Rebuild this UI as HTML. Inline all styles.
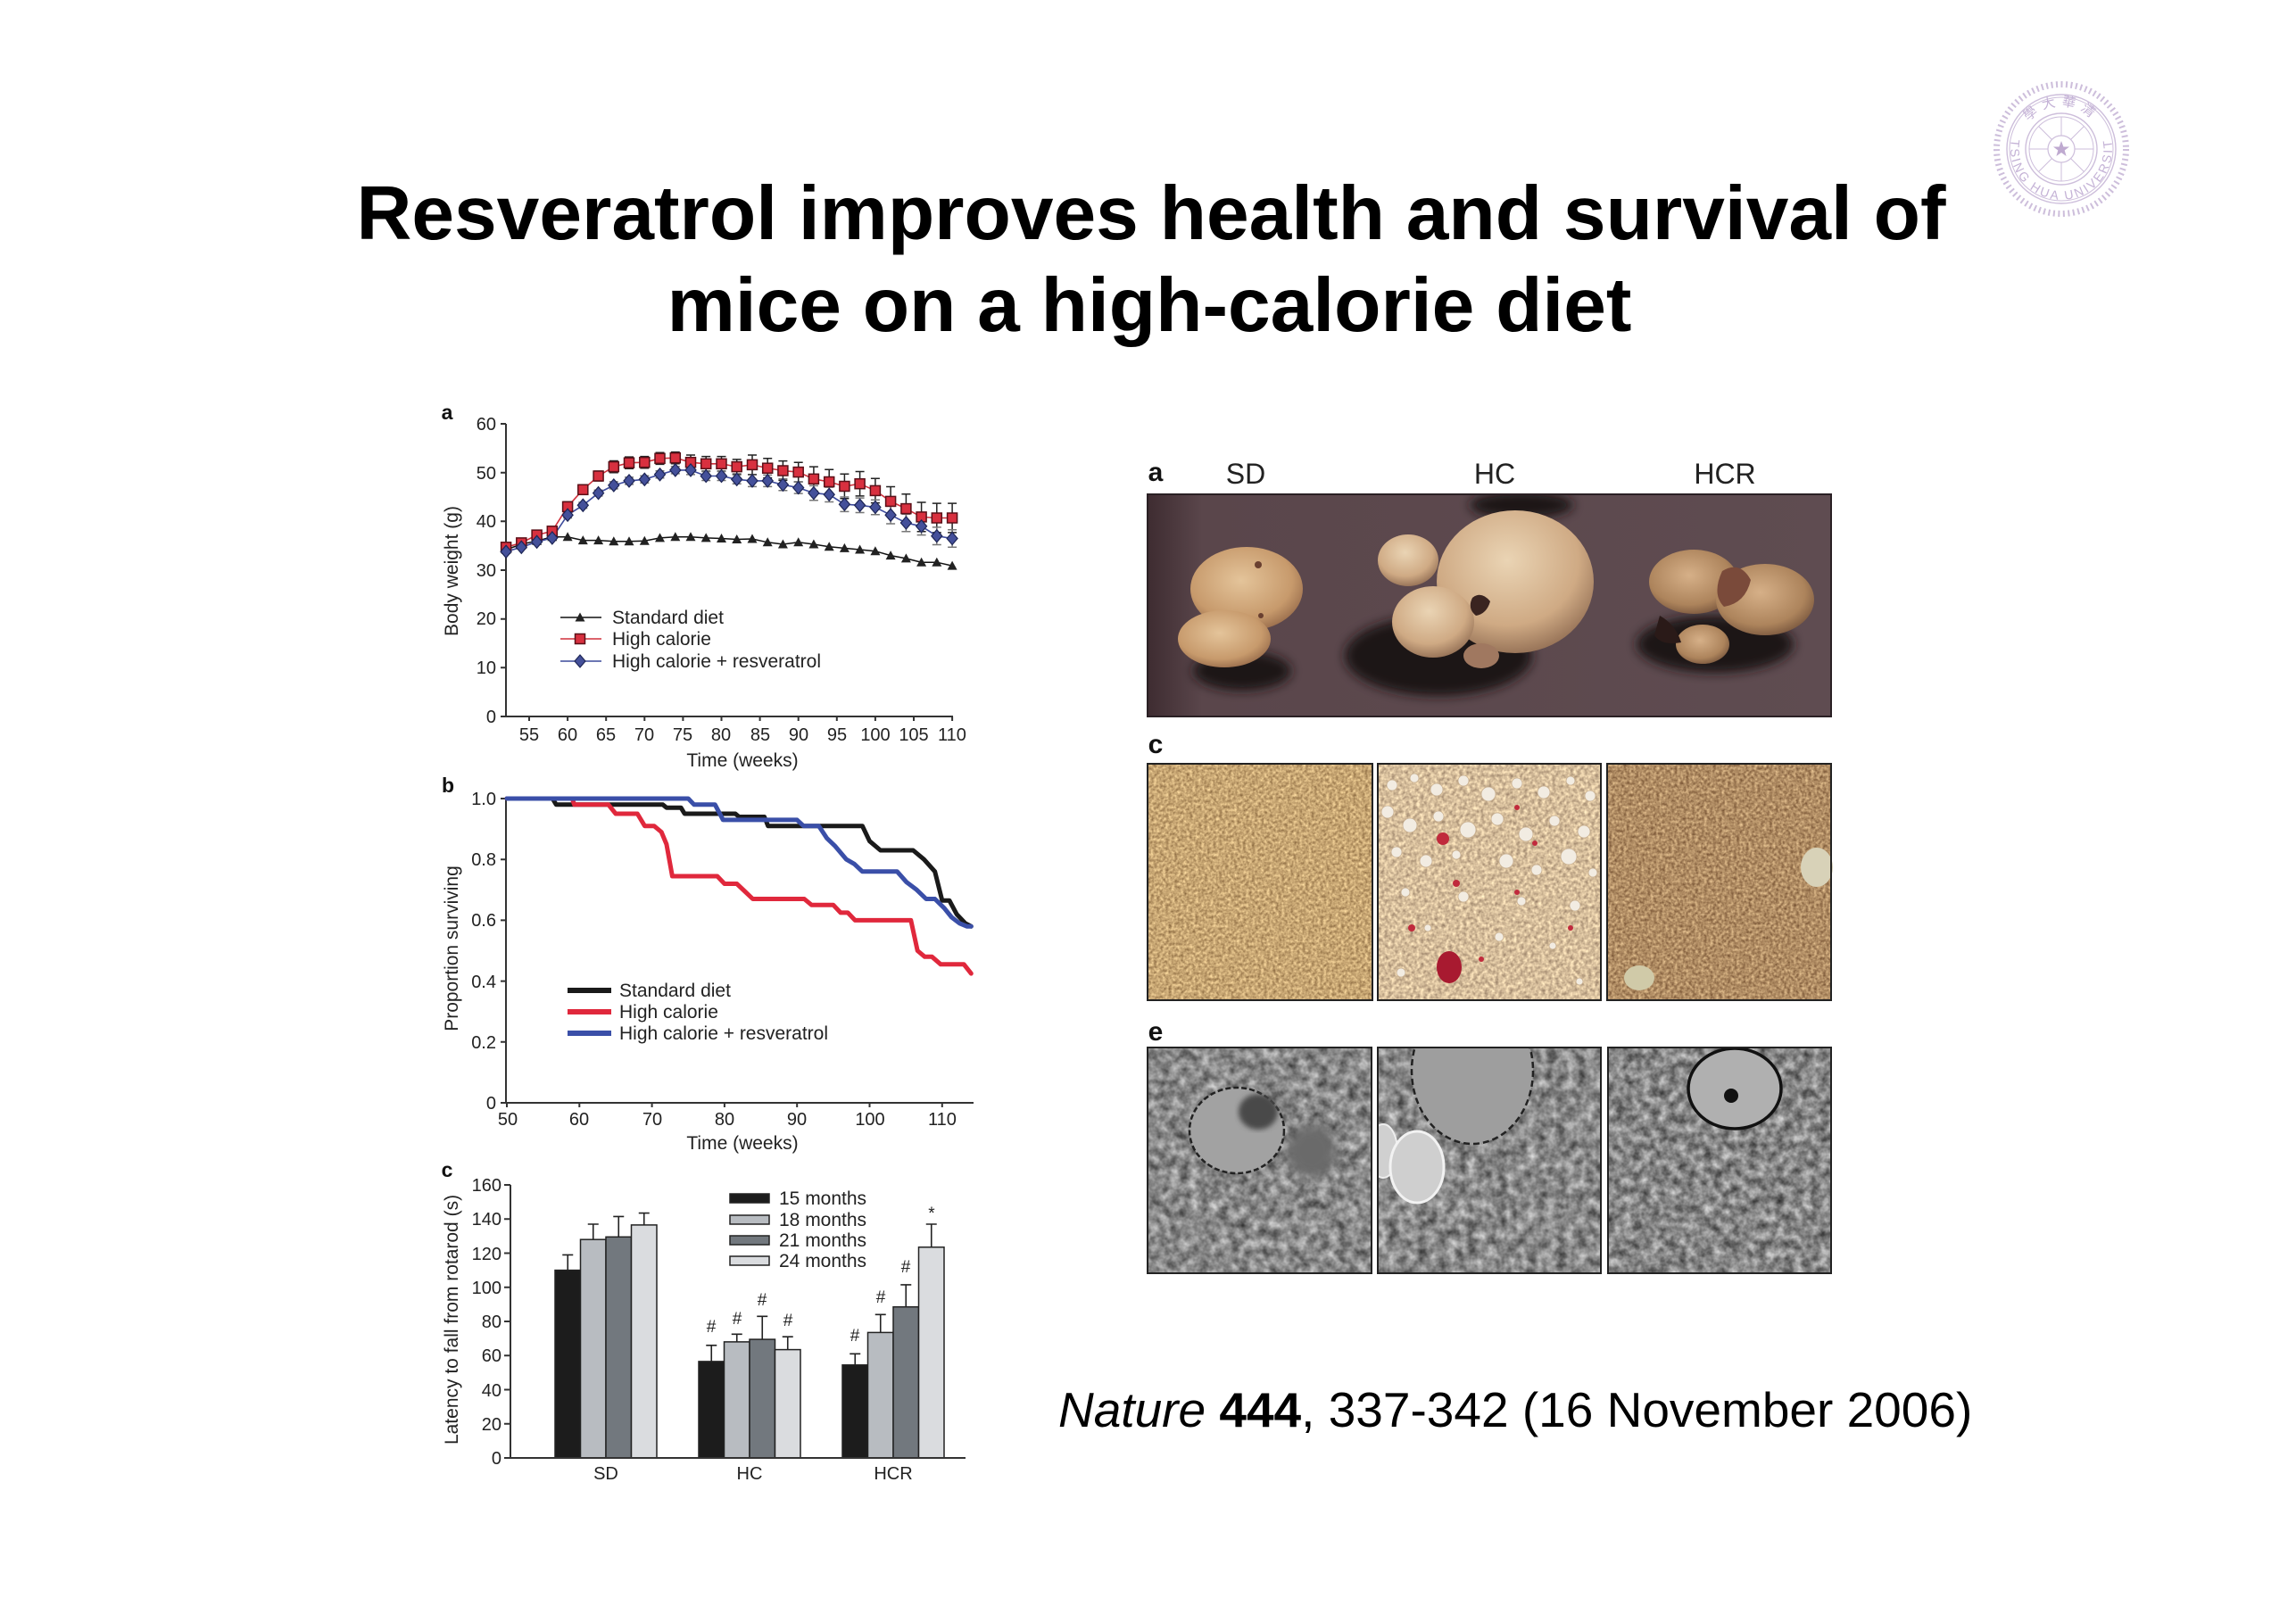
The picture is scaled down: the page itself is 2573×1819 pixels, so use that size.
<!DOCTYPE html>
<html><head><meta charset="utf-8"><style>
html,body{margin:0;padding:0;background:#fff;}
svg{display:block;}
</style></head><body>
<svg xmlns="http://www.w3.org/2000/svg" width="2573" height="1819" viewBox="0 0 2573 1819" font-family="'Liberation Sans', Arial, sans-serif">
<defs>
  <g id="sq"><rect x="-5.5" y="-5.5" width="11" height="11" fill="#d8303f" stroke="#5a1018" stroke-width="1.5"/></g>
  <g id="dm"><polygon points="0,-7 6,0 0,7 -6,0" fill="#44509a" stroke="#1e2656" stroke-width="1.2"/></g>
  <g id="tr"><polygon points="0,-5.5 5.5,4.5 -5.5,4.5" fill="#222"/></g>
  <filter id="fSD" x="0" y="0" width="100%" height="100%" color-interpolation-filters="sRGB"><feTurbulence type="fractalNoise" baseFrequency="0.3" numOctaves="2" seed="4"/><feColorMatrix type="matrix" values="0.6 0 0 0 0.48  0.6 0 0 0 0.35  0.5 0 0 0 0.2  0 0 0 0 1"/></filter>
  <filter id="fHC" x="0" y="0" width="100%" height="100%" color-interpolation-filters="sRGB"><feTurbulence type="fractalNoise" baseFrequency="0.25" numOctaves="2" seed="9"/><feColorMatrix type="matrix" values="0.6 0 0 0 0.54  0.6 0 0 0 0.445  0.5 0 0 0 0.36  0 0 0 0 1"/></filter>
  <filter id="fHCR" x="0" y="0" width="100%" height="100%" color-interpolation-filters="sRGB"><feTurbulence type="fractalNoise" baseFrequency="0.3" numOctaves="2" seed="13"/><feColorMatrix type="matrix" values="0.6 0 0 0 0.39  0.6 0 0 0 0.25  0.5 0 0 0 0.14  0 0 0 0 1"/></filter>
  <filter id="fEM" x="0" y="0" width="100%" height="100%" color-interpolation-filters="sRGB"><feTurbulence type="fractalNoise" baseFrequency="0.09" numOctaves="3" seed="21"/><feColorMatrix type="matrix" values="0.75 0 0 0 0.16  0.75 0 0 0 0.16  0.75 0 0 0 0.16  0 0 0 0 1"/></filter>
  <filter id="fEM2" x="0" y="0" width="100%" height="100%" color-interpolation-filters="sRGB"><feTurbulence type="fractalNoise" baseFrequency="0.09" numOctaves="3" seed="33"/><feColorMatrix type="matrix" values="0.75 0 0 0 0.16  0.75 0 0 0 0.16  0.75 0 0 0 0.16  0 0 0 0 1"/></filter>
  <filter id="fEM3" x="0" y="0" width="100%" height="100%" color-interpolation-filters="sRGB"><feTurbulence type="fractalNoise" baseFrequency="0.1" numOctaves="3" seed="47"/><feColorMatrix type="matrix" values="0.75 0 0 0 0.15  0.75 0 0 0 0.15  0.75 0 0 0 0.15  0 0 0 0 1"/></filter>
  <filter id="blur3"><feGaussianBlur stdDeviation="3"/></filter>
  <filter id="blur6"><feGaussianBlur stdDeviation="6"/></filter>
  <linearGradient id="bgL" x1="0" y1="0" x2="1" y2="0">
    <stop offset="0" stop-color="#3e2c31"/><stop offset="0.08" stop-color="#5a464b"/><stop offset="1" stop-color="#5f4c51"/>
  </linearGradient>
  <radialGradient id="lvA" cx="0.45" cy="0.4" r="0.65"><stop offset="0" stop-color="#e4c49a"/><stop offset="0.7" stop-color="#c79a6c"/><stop offset="1" stop-color="#946848"/></radialGradient>
  <radialGradient id="lvB" cx="0.45" cy="0.35" r="0.65"><stop offset="0" stop-color="#ead4b4"/><stop offset="0.7" stop-color="#cfaa84"/><stop offset="1" stop-color="#9a765a"/></radialGradient>
  <radialGradient id="lvC" cx="0.45" cy="0.4" r="0.65"><stop offset="0" stop-color="#d6b088"/><stop offset="0.7" stop-color="#ad845c"/><stop offset="1" stop-color="#76543c"/></radialGradient>
  <clipPath id="cpA"><rect x="1286" y="554" width="766" height="249"/></clipPath>
  <clipPath id="cpE1"><rect x="1286" y="1174" width="251" height="253"/></clipPath>
  <clipPath id="cpE2"><rect x="1544" y="1174" width="250" height="253"/></clipPath>
  <clipPath id="cpE3"><rect x="1802" y="1174" width="250" height="253"/></clipPath>
  <path id="arcBot" d="M2254.9 152.2 A57 57 0 1 0 2365.1 152.2"/>
  <path id="arcTop" d="M2269 143 A47 47 0 0 1 2351 143"/>
</defs>

<!-- Title -->
<text x="1290" y="268" text-anchor="middle" font-weight="bold" font-size="85.7" fill="#000">Resveratrol improves health and survival of</text>
<text x="1288" y="371" text-anchor="middle" font-weight="bold" font-size="85.7" fill="#000">mice on a high-calorie diet</text>

<!-- Logo -->
<g fill="none" stroke="#cdbedb">
  <circle cx="2310" cy="167" r="72.5" stroke-width="7" stroke-dasharray="2 3.5"/>
  <circle cx="2310" cy="167" r="61" stroke-width="1.4"/>
  <circle cx="2310" cy="167" r="58" stroke-width="1"/>
  <circle cx="2310" cy="167" r="40" stroke-width="1.4"/>
  <circle cx="2310" cy="167" r="36" stroke-width="1"/>
  <circle cx="2310" cy="167" r="15" stroke-width="1.2"/>
  <path d="M2310 152V131 M2310 182V203 M2295 167H2274 M2325 167H2346 M2299.4 156.4L2284.5 141.5 M2320.6 156.4L2335.5 141.5 M2299.4 177.6L2284.5 192.5 M2320.6 177.6L2335.5 192.5" stroke-width="1"/>
</g>
<polygon points="2310,158 2312.4,164.5 2319,164.5 2313.7,168.5 2315.6,175 2310,171 2304.4,175 2306.3,168.5 2301,164.5 2307.6,164.5" fill="#bfaad0"/>
<text font-size="14" fill="#c4b2d6" letter-spacing="2.5"><textPath href="#arcBot" startOffset="4">TSING HUA UNIVERSITY</textPath></text>
<text font-size="15" fill="#c4b2d6" text-anchor="middle" font-family="'Liberation Sans','Noto Sans CJK TC',sans-serif" letter-spacing="6"><textPath href="#arcTop" startOffset="50%">學大華清</textPath></text>

<!-- ========== Chart a ========== -->
<text x="501" y="470" text-anchor="middle" font-weight="bold" font-size="23" fill="#111">a</text>
<g stroke="#333" stroke-width="2" fill="none">
  <path d="M567 475V803H1068"/>
  <path d="M561 803H567M561 748.3H567M561 693.7H567M561 639H567M561 584.3H567M561 529.7H567M561 475H567"/>
  <path d="M593 803V808M636.1 803V808M679.2 803V808M722.3 803V808M765.4 803V808M808.5 803V808M851.6 803V808M894.7 803V808M937.8 803V808M980.9 803V808M1024 803V808M1067.1 803V808"/>
</g>
<g font-size="20" fill="#222" text-anchor="end">
  <text x="556" y="810">0</text><text x="556" y="755">10</text><text x="556" y="700">20</text><text x="556" y="646">30</text><text x="556" y="591">40</text><text x="556" y="537">50</text><text x="556" y="482">60</text>
</g>
<g font-size="20" fill="#222" text-anchor="middle">
  <text x="593" y="830">55</text><text x="636" y="830">60</text><text x="679" y="830">65</text><text x="722" y="830">70</text><text x="765" y="830">75</text><text x="808" y="830">80</text><text x="852" y="830">85</text><text x="895" y="830">90</text><text x="938" y="830">95</text><text x="981" y="830">100</text><text x="1024" y="830">105</text><text x="1067" y="830">110</text>
</g>
<text x="832" y="859" text-anchor="middle" font-size="21" fill="#222">Time (weeks)</text>
<text transform="translate(513,640) rotate(-90)" text-anchor="middle" font-size="21" fill="#222">Body weight (g)</text>

<!-- HC errors -->
<path fill="none" stroke="#222" stroke-width="1.5" d="M562.1 610h10m-5 0V616.6m-5 0h10 M579.3 605.1h10m-5 0V611.7m-5 0h10 M596.6 596.3h10m-5 0V602.9m-5 0h10 M613.8 592h10m-5 0V598.6m-5 0h10 M631.1 562.4h10m-5 0V573.4m-5 0h10 M648.3 543.3h10m-5 0V554.3m-5 0h10 M665.6 528h10m-5 0V539m-5 0h10 M682.8 516.5h10m-5 0V529.7m-5 0h10 M700 512.1h10m-5 0V525.3m-5 0h10 M717.3 511.6h10m-5 0V524.8m-5 0h10 M734.5 507.2h10m-5 0V520.4m-5 0h10 M751.8 506.6h10m-5 0V519.8m-5 0h10 M769 510h10m-5 0V526.4m-5 0h10 M786.2 511.6h10m-5 0V528m-5 0h10 M803.5 511.6h10m-5 0V528m-5 0h10 M820.7 514.9h10m-5 0V531.3m-5 0h10 M838 510h10m-5 0V531.8m-5 0h10 M855.2 513.8h10m-5 0V535.6m-5 0h10 M872.4 516.6h10m-5 0V538.4m-5 0h10 M889.7 518.2h10m-5 0V540m-5 0h10 M906.9 523.1h10m-5 0V550.5m-5 0h10 M924.2 526.3h10m-5 0V553.7m-5 0h10 M941.4 531.3h10m-5 0V558.7m-5 0h10 M958.6 528.5h10m-5 0V555.9m-5 0h10 M975.9 536.2h10m-5 0V563.6m-5 0h10 M993.1 545.5h10m-5 0V578.3m-5 0h10 M1010.4 553.7h10m-5 0V586.5m-5 0h10 M1027.6 563h10m-5 0V595.8m-5 0h10 M1044.8 564.1h10m-5 0V596.9m-5 0h10 M1062.1 564.1h10m-5 0V596.9m-5 0h10"/>
<!-- HCR errors -->
<path fill="none" stroke="#777" stroke-width="1.5" d="M562.1 616.2h10m-5 0V620.2m-5 0h10 M579.3 611.3h10m-5 0V615.3m-5 0h10 M596.6 605.3h10m-5 0V609.3m-5 0h10 M613.8 600.9h10m-5 0V604.9m-5 0h10 M631.1 573.9h10m-5 0V580.5m-5 0h10 M648.3 563h10m-5 0V569.6m-5 0h10 M665.6 549.3h10m-5 0V555.9m-5 0h10 M682.8 539.9h10m-5 0V547.9m-5 0h10 M700 534.9h10m-5 0V542.9m-5 0h10 M717.3 533.3h10m-5 0V541.3m-5 0h10 M734.5 527.8h10m-5 0V535.8m-5 0h10 M751.8 522.9h10m-5 0V530.9m-5 0h10 M769 521.9h10m-5 0V531.9m-5 0h10 M786.2 528.5h10m-5 0V538.5m-5 0h10 M803.5 528.5h10m-5 0V538.5m-5 0h10 M820.7 532.3h10m-5 0V542.3m-5 0h10 M838 532.4h10m-5 0V545.4m-5 0h10 M855.2 532.4h10m-5 0V545.4m-5 0h10 M872.4 536.8h10m-5 0V549.8m-5 0h10 M889.7 540.1h10m-5 0V553.1m-5 0h10 M906.9 544.4h10m-5 0V560.8m-5 0h10 M924.2 546.1h10m-5 0V562.5m-5 0h10 M941.4 557h10m-5 0V573.4m-5 0h10 M958.6 558.1h10m-5 0V574.5m-5 0h10 M975.9 560.3h10m-5 0V576.7m-5 0h10 M993.1 567.4h10m-5 0V587m-5 0h10 M1010.4 576.2h10m-5 0V595.8m-5 0h10 M1027.6 580h10m-5 0V599.6m-5 0h10 M1044.8 590.9h10m-5 0V610.5m-5 0h10 M1062.1 593.7h10m-5 0V613.3m-5 0h10"/>

<polyline fill="none" stroke="#111" stroke-width="1.5" points="567.1,616 584.3,610 601.6,606.2 618.8,601.8 636.1,601.8 653.3,605.6 670.6,605.6 687.8,606.7 705,606.7 722.3,606.2 739.5,602.9 756.8,601.8 774,601.8 791.2,602.9 808.5,603.5 825.7,604.5 843,604 860.2,607.8 877.4,610 894.7,607.8 911.9,610 929.2,612.7 946.4,614.4 963.6,616 980.9,617.7 998.1,622.6 1015.4,625.9 1032.6,630.2 1049.8,630.2 1067.1,634.1"/>
<polyline fill="none" stroke="#d0303c" stroke-width="1.6" points="567.1,613.3 584.3,608.4 601.6,599.6 618.8,595.3 636.1,567.9 653.3,548.8 670.6,533.5 687.8,523.1 705,518.7 722.3,518.2 739.5,513.8 756.8,513.2 774,518.2 791.2,519.8 808.5,519.8 825.7,523.1 843,520.9 860.2,524.7 877.4,527.5 894.7,529.1 911.9,536.8 929.2,540 946.4,545 963.6,542.2 980.9,549.9 998.1,561.9 1015.4,570.1 1032.6,579.4 1049.8,580.5 1067.1,580.5"/>
<polyline fill="none" stroke="#3c4a9c" stroke-width="1.6" points="567.1,618.2 584.3,613.3 601.6,607.3 618.8,602.9 636.1,577.2 653.3,566.3 670.6,552.6 687.8,543.9 705,538.9 722.3,537.3 739.5,531.8 756.8,526.9 774,526.9 791.2,533.5 808.5,533.5 825.7,537.3 843,538.9 860.2,538.9 877.4,543.3 894.7,546.6 911.9,552.6 929.2,554.3 946.4,565.2 963.6,566.3 980.9,568.5 998.1,577.2 1015.4,586 1032.6,589.8 1049.8,600.7 1067.1,603.5"/>

<!-- SD markers -->
<g>
<use href="#tr" x="567.1" y="616"/><use href="#tr" x="584.3" y="610"/><use href="#tr" x="601.6" y="606.2"/><use href="#tr" x="618.8" y="601.8"/><use href="#tr" x="636.1" y="601.8"/><use href="#tr" x="653.3" y="605.6"/><use href="#tr" x="670.6" y="605.6"/><use href="#tr" x="687.8" y="606.7"/><use href="#tr" x="705" y="606.7"/><use href="#tr" x="722.3" y="606.2"/><use href="#tr" x="739.5" y="602.9"/><use href="#tr" x="756.8" y="601.8"/><use href="#tr" x="774" y="601.8"/><use href="#tr" x="791.2" y="602.9"/><use href="#tr" x="808.5" y="603.5"/><use href="#tr" x="825.7" y="604.5"/><use href="#tr" x="843" y="604"/><use href="#tr" x="860.2" y="607.8"/><use href="#tr" x="877.4" y="610"/><use href="#tr" x="894.7" y="607.8"/><use href="#tr" x="911.9" y="610"/><use href="#tr" x="929.2" y="612.7"/><use href="#tr" x="946.4" y="614.4"/><use href="#tr" x="963.6" y="616"/><use href="#tr" x="980.9" y="617.7"/><use href="#tr" x="998.1" y="622.6"/><use href="#tr" x="1015.4" y="625.9"/><use href="#tr" x="1032.6" y="630.2"/><use href="#tr" x="1049.8" y="630.2"/><use href="#tr" x="1067.1" y="634.1"/>
</g>
<!-- HC markers -->
<g>
<use href="#sq" x="567.1" y="613.3"/><use href="#sq" x="584.3" y="608.4"/><use href="#sq" x="601.6" y="599.6"/><use href="#sq" x="618.8" y="595.3"/><use href="#sq" x="636.1" y="567.9"/><use href="#sq" x="653.3" y="548.8"/><use href="#sq" x="670.6" y="533.5"/><use href="#sq" x="687.8" y="523.1"/><use href="#sq" x="705" y="518.7"/><use href="#sq" x="722.3" y="518.2"/><use href="#sq" x="739.5" y="513.8"/><use href="#sq" x="756.8" y="513.2"/><use href="#sq" x="774" y="518.2"/><use href="#sq" x="791.2" y="519.8"/><use href="#sq" x="808.5" y="519.8"/><use href="#sq" x="825.7" y="523.1"/><use href="#sq" x="843" y="520.9"/><use href="#sq" x="860.2" y="524.7"/><use href="#sq" x="877.4" y="527.5"/><use href="#sq" x="894.7" y="529.1"/><use href="#sq" x="911.9" y="536.8"/><use href="#sq" x="929.2" y="540"/><use href="#sq" x="946.4" y="545"/><use href="#sq" x="963.6" y="542.2"/><use href="#sq" x="980.9" y="549.9"/><use href="#sq" x="998.1" y="561.9"/><use href="#sq" x="1015.4" y="570.1"/><use href="#sq" x="1032.6" y="579.4"/><use href="#sq" x="1049.8" y="580.5"/><use href="#sq" x="1067.1" y="580.5"/>
</g>
<!-- HCR markers -->
<g>
<use href="#dm" x="567.1" y="618.2"/><use href="#dm" x="584.3" y="613.3"/><use href="#dm" x="601.6" y="607.3"/><use href="#dm" x="618.8" y="602.9"/><use href="#dm" x="636.1" y="577.2"/><use href="#dm" x="653.3" y="566.3"/><use href="#dm" x="670.6" y="552.6"/><use href="#dm" x="687.8" y="543.9"/><use href="#dm" x="705" y="538.9"/><use href="#dm" x="722.3" y="537.3"/><use href="#dm" x="739.5" y="531.8"/><use href="#dm" x="756.8" y="526.9"/><use href="#dm" x="774" y="526.9"/><use href="#dm" x="791.2" y="533.5"/><use href="#dm" x="808.5" y="533.5"/><use href="#dm" x="825.7" y="537.3"/><use href="#dm" x="843" y="538.9"/><use href="#dm" x="860.2" y="538.9"/><use href="#dm" x="877.4" y="543.3"/><use href="#dm" x="894.7" y="546.6"/><use href="#dm" x="911.9" y="552.6"/><use href="#dm" x="929.2" y="554.3"/><use href="#dm" x="946.4" y="565.2"/><use href="#dm" x="963.6" y="566.3"/><use href="#dm" x="980.9" y="568.5"/><use href="#dm" x="998.1" y="577.2"/><use href="#dm" x="1015.4" y="586"/><use href="#dm" x="1032.6" y="589.8"/><use href="#dm" x="1049.8" y="600.7"/><use href="#dm" x="1067.1" y="603.5"/>
</g>

<!-- legend a -->
<path d="M628 692H674" stroke="#111" stroke-width="1.5"/><use href="#tr" x="650" y="692"/>
<path d="M628 716H674" stroke="#d0303c" stroke-width="1.5"/><use href="#sq" x="650" y="716"/>
<path d="M628 741H674" stroke="#3c4a9c" stroke-width="1.5"/><use href="#dm" x="650" y="741"/>
<g font-size="21" fill="#222">
  <text x="686" y="699">Standard diet</text>
  <text x="686" y="723">High calorie</text>
  <text x="686" y="748">High calorie + resveratrol</text>
</g>

<!-- ========== Chart b ========== -->
<text x="502" y="888" text-anchor="middle" font-weight="bold" font-size="23" fill="#111">b</text>
<g stroke="#333" stroke-width="2" fill="none">
  <path d="M567 895V1236H1091"/>
  <path d="M561 1236H567M561 1167.8H567M561 1099.6H567M561 1031.4H567M561 963.2H567M561 895H567"/>
  <path d="M568 1236V1241M649.3 1236V1241M730.6 1236V1241M811.9 1236V1241M893.2 1236V1241M974.5 1236V1241M1055.8 1236V1241"/>
</g>
<g font-size="20" fill="#222" text-anchor="end">
  <text x="556" y="1243">0</text><text x="556" y="1175">0.2</text><text x="556" y="1107">0.4</text><text x="556" y="1038">0.6</text><text x="556" y="970">0.8</text><text x="556" y="902">1.0</text>
</g>
<g font-size="20" fill="#222" text-anchor="middle">
  <text x="569" y="1261">50</text><text x="649" y="1261">60</text><text x="731" y="1261">70</text><text x="812" y="1261">80</text><text x="893" y="1261">90</text><text x="975" y="1261">100</text><text x="1056" y="1261">110</text>
</g>
<text x="832" y="1288" text-anchor="middle" font-size="21" fill="#222">Time (weeks)</text>
<text transform="translate(513,1063) rotate(-90)" text-anchor="middle" font-size="21" fill="#222">Proportion surviving</text>

<g fill="none" stroke-width="5" stroke-linejoin="round" stroke-linecap="round">
<polyline stroke="#1a1a1a" points="568,895 619.2,895 623.3,901.8 742.8,901.8 746.9,905.2 763.1,905.2 767.2,912 824.1,912 828.2,915.5 856.6,915.5 860.7,925.7 966.4,925.7 974.5,942.7 986.7,953 1023.3,953 1035.5,963.2 1047.7,976.8 1055.8,1009.2 1063.9,1009.2 1072.1,1024.6 1081.8,1034.8 1088.3,1038.2"/>
<polyline stroke="#e0283c" points="568,895 641.2,895 643.6,901.8 681.8,901.8 690,912 714.3,912 722.5,925.7 733,925.7 741.2,932.5 746.9,946.1 753.4,982 803.8,982 811.9,990.5 825.7,990.5 834.7,999 843.6,1007.5 901.3,1007.5 909.5,1014.3 933.9,1014.3 942,1022.9 950.1,1022.9 958.2,1031.4 1020.8,1031.4 1028.2,1065.5 1036.3,1072.3 1044.4,1072.3 1054.2,1080.8 1080.2,1080.8 1088.3,1091.1"/>
<polyline stroke="#3a4fa8" points="568,895 771.3,895 777.8,901.8 801.3,901.8 810.3,918.9 893.2,918.9 900.5,925.7 917.6,925.7 926.5,939.3 935.5,947.9 948.5,963.2 957.4,968.3 966.4,976.8 1005.4,976.8 1016,988.8 1027.3,997.3 1037.9,1007.5 1047.7,1007.5 1058.2,1017.8 1066.4,1028 1075.3,1034.8 1083.4,1038.2 1088.3,1038.2"/>
</g>
<g stroke-width="6">
  <path d="M636 1110H685" stroke="#1a1a1a"/>
  <path d="M636 1134H685" stroke="#e0283c"/>
  <path d="M636 1158H685" stroke="#3a4fa8"/>
</g>
<g font-size="21" fill="#222">
  <text x="694" y="1117">Standard diet</text>
  <text x="694" y="1141">High calorie</text>
  <text x="694" y="1165">High calorie + resveratrol</text>
</g>

<!-- ========== Chart c ========== -->
<text x="501" y="1319" text-anchor="middle" font-weight="bold" font-size="23" fill="#111">c</text>
<g stroke="#222" stroke-width="1.5">
  <rect x="622" y="1423.6" width="28.5" height="210.4" fill="#1c1c1c"/>
  <rect x="650.5" y="1389.2" width="28.5" height="244.8" fill="#b8bcc1"/>
  <rect x="679" y="1386.3" width="28.5" height="247.7" fill="#72787e"/>
  <rect x="707.5" y="1372.9" width="28.5" height="261.1" fill="#dadcdf"/>
  <rect x="783" y="1525.9" width="28.5" height="108.1" fill="#1c1c1c"/>
  <rect x="811.5" y="1503.9" width="28.5" height="130.1" fill="#b8bcc1"/>
  <rect x="840" y="1501.1" width="28.5" height="132.9" fill="#72787e"/>
  <rect x="868.5" y="1512.6" width="28.5" height="121.4" fill="#dadcdf"/>
  <rect x="944" y="1529.8" width="28.5" height="104.2" fill="#1c1c1c"/>
  <rect x="972.5" y="1493.4" width="28.5" height="140.6" fill="#b8bcc1"/>
  <rect x="1001" y="1464.7" width="28.5" height="169.3" fill="#72787e"/>
  <rect x="1029.5" y="1397.8" width="28.5" height="236.2" fill="#dadcdf"/>
</g>
<path fill="none" stroke="#222" stroke-width="1.6" d="M636.25 1406.4V1423.6M630.25 1406.4h12 M664.75 1372V1389.2M658.75 1372h12 M693.25 1363.4V1386.3M687.25 1363.4h12 M721.75 1359.6V1372.9M715.75 1359.6h12 M797.25 1507.8V1525.9M791.25 1507.8h12 M825.75 1495.3V1503.9M819.75 1495.3h12 M854.25 1475.3V1501.1M848.25 1475.3h12 M882.75 1498.2V1512.6M876.75 1498.2h12 M958.25 1517.3V1529.8M952.25 1517.3h12 M986.75 1473.3V1493.4M980.75 1473.3h12 M1015.25 1439.9V1464.7M1009.25 1439.9h12 M1043.75 1372V1397.8M1037.75 1372h12"/>
<g stroke="#333" stroke-width="2" fill="none">
  <path d="M572 1328V1634H1082"/>
  <path d="M565 1634H572M565 1595.75H572M565 1557.5H572M565 1519.25H572M565 1481H572M565 1442.75H572M565 1404.5H572M565 1366.25H572M565 1328H572"/>
</g>
<g font-size="20" fill="#222" text-anchor="end">
  <text x="562" y="1641">0</text><text x="562" y="1603">20</text><text x="562" y="1565">40</text><text x="562" y="1526">60</text><text x="562" y="1488">80</text><text x="562" y="1450">100</text><text x="562" y="1412">120</text><text x="562" y="1373">140</text><text x="562" y="1335">160</text>
</g>
<g font-size="20" fill="#222" text-anchor="middle">
  <text x="679" y="1658">SD</text><text x="840" y="1658">HC</text><text x="1001" y="1658">HCR</text>
</g>
<g font-size="19" fill="#222" text-anchor="middle">
  <text x="797" y="1493">#</text><text x="826" y="1484">#</text><text x="854" y="1463">#</text><text x="883" y="1486">#</text>
  <text x="958" y="1503">#</text><text x="987" y="1460">#</text><text x="1015" y="1426">#</text><text x="1044" y="1366">*</text>
</g>
<text transform="translate(513,1479) rotate(-90)" text-anchor="middle" font-size="21" fill="#222">Latency to fall from rotarod (s)</text>
<g stroke="#222" stroke-width="1.5">
  <rect x="818" y="1338" width="44" height="10" fill="#1c1c1c"/>
  <rect x="818" y="1362" width="44" height="10" fill="#b8bcc1"/>
  <rect x="818" y="1385" width="44" height="10" fill="#72787e"/>
  <rect x="818" y="1408" width="44" height="10" fill="#dadcdf"/>
</g>
<g font-size="21" fill="#222">
  <text x="873" y="1350">15 months</text>
  <text x="873" y="1374">18 months</text>
  <text x="873" y="1397">21 months</text>
  <text x="873" y="1420">24 months</text>
</g>

<!-- ========== Right panel ========== -->
<g font-weight="bold" font-size="30" fill="#111" text-anchor="middle">
  <text x="1295" y="539">a</text>
  <text x="1295" y="844">c</text>
  <text x="1295" y="1166">e</text>
</g>
<g font-size="32" fill="#222" text-anchor="middle">
  <text x="1396" y="542">SD</text><text x="1675" y="542">HC</text><text x="1933" y="542">HCR</text>
</g>

<!-- liver photo -->
<g clip-path="url(#cpA)">
  <rect x="1286" y="554" width="766" height="249" fill="url(#bgL)"/>
  <g fill="#1c1214" filter="url(#blur6)">
    <ellipse cx="1392" cy="752" rx="55" ry="22"/>
    <ellipse cx="1612" cy="735" rx="105" ry="45"/>
    <ellipse cx="1705" cy="566" rx="58" ry="15"/>
    <ellipse cx="1922" cy="722" rx="88" ry="32"/>
  </g>
  <ellipse cx="1397" cy="660" rx="63" ry="47" fill="url(#lvA)"/>
  <ellipse cx="1372" cy="716" rx="52" ry="32" fill="url(#lvA)"/>
  <circle cx="1410" cy="633" r="4" fill="#6a4030"/><circle cx="1413" cy="690" r="3" fill="#6a4030"/>
  <ellipse cx="1578" cy="628" rx="34" ry="29" fill="url(#lvB)"/>
  <ellipse cx="1698" cy="652" rx="88" ry="80" fill="url(#lvB)"/>
  <ellipse cx="1606" cy="697" rx="46" ry="40" fill="url(#lvB)"/>
  <path d="M1650 670 q10 -8 20 4 q-4 14 -16 16 q-10 -8 -4 -20z" fill="#3a2420"/>
  <ellipse cx="1660" cy="735" rx="20" ry="14" fill="#a07860"/>
  <ellipse cx="1898" cy="652" rx="50" ry="36" fill="url(#lvC)"/>
  <ellipse cx="1978" cy="672" rx="55" ry="40" fill="url(#lvC)"/>
  <ellipse cx="1908" cy="722" rx="30" ry="22" fill="url(#lvC)"/>
  <path d="M1930 640 q20 -12 32 10 q-6 26 -30 30 q-14 -14 -2 -40z" fill="#7a4a3a"/>
  <path d="M1860 690 q18 10 24 30 q-22 4 -30 -8z" fill="#2a1a18"/>
</g>
<rect x="1286" y="554" width="766" height="249" fill="none" stroke="#2a2024" stroke-width="2"/>

<!-- histology c -->
<rect x="1286" y="856" width="252" height="265" filter="url(#fSD)"/>
<rect x="1544" y="856" width="250" height="265" filter="url(#fHC)"/>
<rect x="1801" y="856" width="251" height="265" filter="url(#fHCR)"/>
<g fill="#f2ece2" stroke="#c9b090" stroke-width="0.8">
  <circle cx="1560" cy="880" r="6"/><circle cx="1585" cy="872" r="5"/><circle cx="1610" cy="885" r="7"/><circle cx="1640" cy="875" r="6"/><circle cx="1668" cy="890" r="8"/><circle cx="1700" cy="878" r="6"/><circle cx="1730" cy="888" r="7"/><circle cx="1760" cy="875" r="5"/><circle cx="1782" cy="892" r="6"/>
  <circle cx="1555" cy="910" r="7"/><circle cx="1580" cy="925" r="8"/><circle cx="1612" cy="915" r="6"/><circle cx="1645" cy="930" r="9"/><circle cx="1678" cy="918" r="7"/><circle cx="1710" cy="935" r="8"/><circle cx="1742" cy="920" r="6"/><circle cx="1775" cy="932" r="7"/>
  <circle cx="1565" cy="955" r="6"/><circle cx="1598" cy="965" r="7"/><circle cx="1632" cy="958" r="5"/><circle cx="1688" cy="965" r="8"/><circle cx="1722" cy="975" r="6"/><circle cx="1758" cy="960" r="9"/><circle cx="1785" cy="978" r="5"/>
  <circle cx="1575" cy="1000" r="5"/><circle cx="1640" cy="1005" r="6"/><circle cx="1705" cy="1010" r="5"/><circle cx="1765" cy="1015" r="6"/><circle cx="1600" cy="1040" r="4"/><circle cx="1680" cy="1050" r="5"/><circle cx="1740" cy="1060" r="4"/><circle cx="1570" cy="1090" r="5"/><circle cx="1770" cy="1100" r="4"/>
</g>
<g fill="#c02a3c">
  <circle cx="1617" cy="940" r="7"/><circle cx="1632" cy="990" r="4"/><circle cx="1700" cy="1000" r="3"/><circle cx="1760" cy="1040" r="3"/><circle cx="1582" cy="1040" r="4"/><circle cx="1720" cy="945" r="3"/><circle cx="1660" cy="1075" r="3"/><circle cx="1700" cy="905" r="3"/>
  <ellipse cx="1624" cy="1084" rx="14" ry="18" fill="#a81a30"/>
</g>
<ellipse cx="2036" cy="972" rx="18" ry="22" fill="#d8d2b8"/>
<ellipse cx="1837" cy="1096" rx="17" ry="14" fill="#d0caa8"/>
<g fill="none" stroke="#222" stroke-width="2">
  <rect x="1286" y="856" width="252" height="265"/>
  <rect x="1544" y="856" width="250" height="265"/>
  <rect x="1801" y="856" width="251" height="265"/>
</g>

<!-- EM e -->
<rect x="1286" y="1174" width="251" height="253" filter="url(#fEM)"/>
<rect x="1544" y="1174" width="250" height="253" filter="url(#fEM2)"/>
<rect x="1802" y="1174" width="250" height="253" filter="url(#fEM3)"/>
<g clip-path="url(#cpE1)">
  <ellipse cx="1386" cy="1267" rx="53" ry="48" fill="#a2a2a2" stroke="#222" stroke-width="2.5" stroke-dasharray="6 3"/>
  <ellipse cx="1410" cy="1246" rx="22" ry="20" fill="#4a4a4a" filter="url(#blur3)"/>
  <ellipse cx="1470" cy="1290" rx="28" ry="30" fill="#6a6a6a" filter="url(#blur6)"/>
</g>
<g clip-path="url(#cpE2)">
  <ellipse cx="1650" cy="1200" rx="68" ry="82" fill="#9e9e9e" stroke="#222" stroke-width="2.5" stroke-dasharray="7 4"/>
  <ellipse cx="1550" cy="1290" rx="16" ry="30" fill="#d0d0d0" stroke="#eee" stroke-width="2"/>
  <ellipse cx="1588" cy="1308" rx="30" ry="40" fill="#cfcfcf" stroke="#f2f2f2" stroke-width="3"/>
</g>
<g clip-path="url(#cpE3)">
  <ellipse cx="1944" cy="1220" rx="52" ry="45" fill="#b0b0b0" stroke="#111" stroke-width="3.5"/>
  <circle cx="1940" cy="1228" r="8" fill="#111"/>
</g>
<g fill="none" stroke="#222" stroke-width="2">
  <rect x="1286" y="1174" width="251" height="253"/>
  <rect x="1544" y="1174" width="250" height="253"/>
  <rect x="1802" y="1174" width="250" height="253"/>
</g>

<!-- citation -->
<text x="1186" y="1599" font-size="55" fill="#000"><tspan font-style="italic">Nature</tspan> <tspan font-weight="bold">444</tspan>, 337-342 (16 November 2006)</text>
</svg>
</body></html>
